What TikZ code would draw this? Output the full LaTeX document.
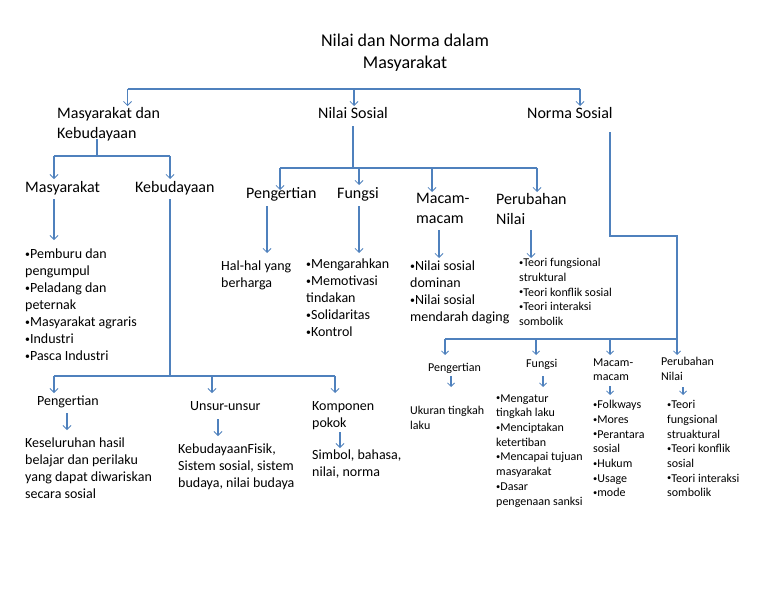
\documentclass[tikz,border=0pt]{standalone}
\usepackage{fontspec}
\setmainfont{Carlito}
\usetikzlibrary{arrows.meta}
\definecolor{ln}{RGB}{79,129,189}
\newcommand{\bl}{\raisebox{0.1em}{\scalebox{0.7}{•}}}
\begin{document}
\begin{tikzpicture}[x=1pt,y=-1pt,
  con/.style={draw=ln,line width=1.1pt},
  arr/.style={con,-{Straight Barb[length=4pt,width=8pt,line width=0.8pt]}},
  sarr/.style={con,-{Straight Barb[length=3.5pt,width=7pt,line width=0.8pt]}},
  tx/.style={anchor=north west,inner sep=0pt,align=left,text=black},
  fT/.style={font=\fontsize{18}{22}\selectfont},
  fA/.style={font=\fontsize{16}{20}\selectfont},
  fB/.style={font=\fontsize{14}{17}\selectfont},
  fC/.style={font=\fontsize{12}{14.7}\selectfont}]
\fill[white] (0,0) rectangle (768,594);
\useasboundingbox (0,0) rectangle (768,594);

% texts
\node[tx,fT,anchor=north,align=center] (title) at (405,34) {Nilai dan Norma dalam\\Masyarakat};
\node[tx,fA] (mk) at (57,107.5) {Masyarakat dan\\Kebudayaan};
\node[tx,fA] (ns) at (318,107.5) {Nilai Sosial};
\node[tx,fA] (nos) at (527,107.5) {Norma Sosial};
\node[tx,fA] (mas) at (25,181.5) {Masyarakat};
\node[tx,fA] (keb) at (135,181.5) {Kebudayaan};
\node[tx,fA] (p1) at (246,187.5) {Pengertian};
\node[tx,fA] (f1) at (337,187.5) {Fungsi};
\node[tx,fA] (m1) at (416,193.5) {Macam-\\macam};
\node[tx,fA] (pn1) at (496,193.5) {Perubahan\\Nilai};
\node[tx,fB] (masl) at (25,248.5) {\bl Pemburu dan\\pengumpul\\\bl Peladang dan\\peternak\\\bl Masyarakat agraris\\\bl Industri\\\bl Pasca Industri};
\node[tx,fB] (p1t) at (221,260.5) {Hal-hal yang\\berharga};
\node[tx,fB] (f1t) at (306,258.5) {\bl Mengarahkan\\\bl Memotivasi\\tindakan\\\bl Solidaritas\\\bl Kontrol};
\node[tx,fB] (m1t) at (410,260.5) {\bl Nilai sosial\\dominan\\\bl Nilai sosial\\mendarah daging};
\node[tx,fC] (pn1t) at (519,258.2) {\bl Teori fungsional\\struktural\\\bl Teori konflik sosial\\\bl Teori interaksi\\sombolik};
\node[tx,fB] (p2) at (37,395.5) {Pengertian};
\node[tx,fB] (u2) at (190,401.5) {Unsur-unsur};
\node[tx,fB] (k2) at (312,401.5) {Komponen\\pokok};
\node[tx,fB] (p2t) at (25,437.5) {Keseluruhan hasil\\belajar dan perilaku\\yang dapat diwariskan\\secara sosial};
\node[tx,fB] (u2t) at (178,443.5) {KebudayaanFisik,\\Sistem sosial, sistem\\budaya, nilai budaya};
\node[tx,fB] (k2t) at (312,449.5) {Simbol, bahasa,\\nilai, norma};
\node[tx,fC] (p3) at (428,363.2) {Pengertian};
\node[tx,fC] (f3) at (526,359.2) {Fungsi};
\node[tx,fC] (m3) at (593,358.2) {Macam-\\macam};
\node[tx,fC] (pn3) at (661,357.2) {Perubahan\\Nilai};
\node[tx,fC] (p3t) at (410,406.2) {Ukuran tingkah\\laku};
\node[tx,fC] (f3t) at (496,394.2) {\bl Mengatur\\tingkah laku\\\bl Menciptakan\\ketertiban\\\bl Mencapai tujuan\\masyarakat\\\bl Dasar\\pengenaan sanksi};
\node[tx,fC] (m3t) at (593,400.2) {\bl Folkways\\\bl Mores\\\bl Perantara\\sosial\\\bl Hukum\\\bl Usage\\\bl mode};
\node[tx,fC] (pn3t) at (667,400.2) {\bl Teori\\fungsional\\struaktural\\\bl Teori konflik\\sosial\\\bl Teori interaksi\\sombolik};

% junction coordinates
\coordinate (t1) at (127.5,89); \coordinate (t2) at (354,89); \coordinate (t3) at (580,89);
\coordinate (t1e) at (127.5,106); \coordinate (t2e) at (354,106); \coordinate (t3e) at (580,106);
\coordinate (a0) at (97,139); \coordinate (a0b) at (97,156);
\coordinate (a1) at (54,156); \coordinate (a2) at (170,156);
\coordinate (a1e) at (54,179); \coordinate (a2e) at (170,179);
\coordinate (n0) at (353,126); \coordinate (n0b) at (353,168);
\coordinate (n1) at (280,168); \coordinate (n2) at (359,168); \coordinate (n3) at (432,168); \coordinate (n4) at (537,168);
\coordinate (n1e) at (280,190); \coordinate (n2e) at (359,185); \coordinate (n3e) at (432,192); \coordinate (n4e) at (537,192);
\coordinate (ma) at (54,199); \coordinate (mae) at (54,240);
\coordinate (pa) at (267,206); \coordinate (pae) at (267,253);
\coordinate (fa) at (359,206); \coordinate (fae) at (359,253);
\coordinate (mma) at (439,230); \coordinate (mmae) at (439,258);
\coordinate (pna) at (531,230); \coordinate (pnae) at (531,258);
\coordinate (k0) at (170,199); \coordinate (k0b) at (170,376);
\coordinate (k1) at (54,376); \coordinate (k2c) at (212,376); \coordinate (k3) at (335,376);
\coordinate (k1e) at (54,393); \coordinate (k2e) at (212,393); \coordinate (k3e) at (335,393);
\coordinate (pb) at (67,413); \coordinate (pbe) at (67,430);
\coordinate (ub) at (218,419); \coordinate (ube) at (218,436);
\coordinate (kb) at (340,432); \coordinate (kbe) at (340,448);
\coordinate (s0) at (610,132); \coordinate (s1) at (610,236); \coordinate (s2) at (677,236);
\coordinate (r1) at (445,339); \coordinate (r2) at (536,339); \coordinate (r3) at (610,339); \coordinate (r4) at (677,339);
\coordinate (r1e) at (445,355); \coordinate (r2e) at (536,355); \coordinate (r3e) at (610,355); \coordinate (r4e) at (677,355);
\coordinate (pc) at (451,376); \coordinate (pce) at (451,387);
\coordinate (fc) at (543,376); \coordinate (fce) at (543,387);
\coordinate (mc) at (610,386); \coordinate (mce) at (610,395);
\coordinate (nc) at (683,387); \coordinate (nce) at (683,395);

% connectors
\draw[con] (t1) -- (t3);
\draw[arr] (t1) -- (t1e);
\draw[arr] (t2) -- (t2e);
\draw[arr] (t3) -- (t3e);
\draw[con] (a0) -- (a0b);
\draw[con] (a1) -- (a2);
\draw[arr] (a1) -- (a1e);
\draw[arr] (a2) -- (a2e);
\draw[con] (n0) -- (n0b);
\draw[con] (n1) -- (n4);
\draw[arr] (n1) -- (n1e);
\draw[arr] (n2) -- (n2e);
\draw[arr] (n3) -- (n3e);
\draw[arr] (n4) -- (n4e);
\draw[arr] (ma) -- (mae);
\draw[arr] (pa) -- (pae);
\draw[arr] (fa) -- (fae);
\draw[arr] (mma) -- (mmae);
\draw[arr] (pna) -- (pnae);
\draw[con] (k0) -- (k0b);
\draw[con] (k1) -- (k3);
\draw[arr] (k1) -- (k1e);
\draw[arr] (k2c) -- (k2e);
\draw[arr] (k3) -- (k3e);
\draw[arr] (pb) -- (pbe);
\draw[arr] (ub) -- (ube);
\draw[arr] (kb) -- (kbe);
\draw[con] (s0) -- (s1) -- (s2) -- (r4);
\draw[con] (r1) -- (r4);
\draw[sarr] (r1) -- (r1e);
\draw[sarr] (r2) -- (r2e);
\draw[sarr] (r3) -- (r3e);
\draw[sarr] (r4) -- (r4e);
\draw[sarr] (pc) -- (pce);
\draw[sarr] (fc) -- (fce);
\draw[sarr] (mc) -- (mce);
\draw[sarr] (nc) -- (nce);
\end{tikzpicture}
\end{document}
